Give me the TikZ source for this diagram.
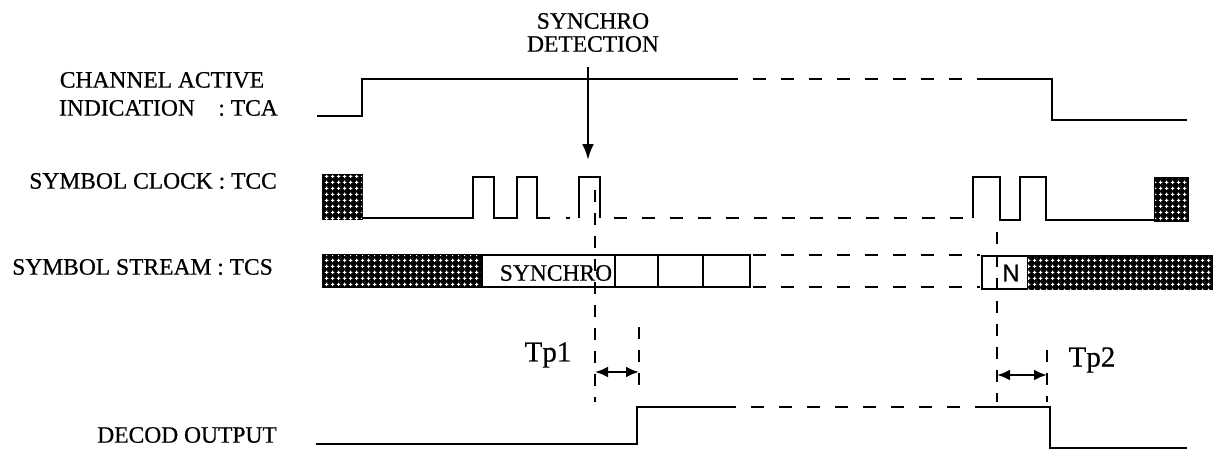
\documentclass[tikz,border=0pt]{standalone}
\usepackage{fontspec}
\setmainfont{Liberation Serif}[UprightFeatures={FakeBold=0.6}]
\newfontfamily\nfont{Liberation Sans}[UprightFeatures={FakeBold=0.6}]
\usetikzlibrary{arrows.meta,patterns}
\pgfdeclarepatternformonly{pluses}{\pgfpointorigin}{\pgfpoint{6pt}{6pt}}{\pgfpoint{6pt}{6pt}}{
	\pgfsetlinewidth{1.2pt}
	\pgfpathmoveto{\pgfpoint{1pt}{3pt}}\pgfpathlineto{\pgfpoint{5pt}{3pt}}
	\pgfpathmoveto{\pgfpoint{3pt}{1pt}}\pgfpathlineto{\pgfpoint{3pt}{5pt}}
	\pgfusepath{stroke}
}
\tikzset{
	sig/.style={line width=2.8pt},
	dsig/.style={line width=2.8pt, dash pattern=on 13pt off 15pt},
	vdsh/.style={line width=2.8pt, dash pattern=on 12pt off 11pt},
	hatch/.style={line width=2.8pt, fill=black, postaction={pattern=pluses, pattern color=white}},
	lbl/.style={font=\fontsize{23.5}{21}\selectfont, inner sep=0pt},
	tplbl/.style={font=\fontsize{29}{30}\selectfont, inner sep=0pt},
	gap/.style={line width=2.4pt, {Latex[length=13pt,width=11pt]}-{Latex[length=13pt,width=11pt]}},
}

\begin{document}
\begin{tikzpicture}[x=1pt,y=-1pt]
		%%%%% START %%%%%
		\useasboundingbox (0,0) rectangle (1223,455);
		
		% signal names
		\node[lbl] (tcatop) at (162,80) {CHANNEL ACTIVE};
		\node[lbl,anchor=east] (tca) at (278,108) {INDICATION\hspace{1em}: TCA};
		\node[lbl,anchor=east] (tcc) at (277,181) {SYMBOL CLOCK : TCC};
		\node[lbl,anchor=east] (tcs) at (273,267) {SYMBOL STREAM : TCS};
		\node[lbl,anchor=east] (decod) at (277,435) {DECOD OUTPUT};
		
		% TCA
		\draw[sig] (317,116) -- (362,116) -- (362,79) -- (725,79);
		\draw[dsig] (725,79) -- (982,79);
		\draw[sig] (982,79) -- (1052,79) -- (1052,120) -- (1187,120);
		
		% synchro detection
		\node[lbl] (sync) at (593,21) {SYNCHRO};
		\node[lbl] (detect) at (593,44) {DETECTION};
		\coordinate (synctop) at (588,67);
		\coordinate (syncpt) at (588,160);
		\draw[line width=2.6pt,-{Latex[length=16pt,width=12pt]}] (synctop) -- (syncpt);
		
		% TCC
		\draw[hatch] (323,175) rectangle (362,219);
		\draw[sig] (362,218) -- (473,218) -- (473,177) -- (494,177) -- (494,218) -- (517,218)
			-- (517,177) -- (537,177) -- (537,218) -- (550,218);
		\draw[sig] (566,218) -- (570,218);
		\draw[sig] (579,218) -- (579,177) -- (600,177) -- (600,218);
		\draw[dsig] (614,218) -- (965,218);
		\draw[sig] (973,218) -- (973,177) -- (1000,177) -- (1000,220) -- (1020,220) -- (1020,177)
			-- (1046,177) -- (1046,220) -- (1155,220);
		\draw[hatch] (1155,178) rectangle (1188,221);
		
		% TCS
		\draw[hatch] (323,255) rectangle (482,287);
		\draw[sig] (482,255) rectangle (750,287);
		\foreach \x in {615,658,703}
			\draw[sig] (\x,255) -- (\x,287);
		\node[lbl] (synword) at (556,273) {SYNCHRO};
		\draw[dsig] (753,255) -- (980,255);
		\draw[dsig] (753,287) -- (980,287);
		\draw[sig] (982,256) rectangle (1028,289);
		\node[inner sep=0pt,font=\nfont\fontsize{24}{24}\selectfont] (nword) at (1011,273) {N};
		\draw[hatch] (1028,256) rectangle (1212,289);
		
		% time marks
		\draw[vdsh] (595,190) -- (595,402);
		\draw[vdsh] (639,327) -- (639,392);
		\draw[vdsh] (997,232) -- (997,402);
		\draw[vdsh] (1047,350) -- (1047,402);
		
		\coordinate (tp1a) at (595,372);
		\coordinate (tp1b) at (639,372);
		\coordinate (tp2a) at (997,375);
		\coordinate (tp2b) at (1047,375);
		\draw[gap] (tp1a) -- (tp1b);
		\draw[gap] (tp2a) -- (tp2b);
		\node[tplbl] (tp1) at (548,355) {Tp1};
		\node[tplbl] (tp2) at (1092,360) {Tp2};
		
		% DECOD
		\draw[sig] (316,444) -- (637,444) -- (637,407) -- (723,407);
		\draw[dsig] (723,407) -- (980,407);
		\draw[sig] (980,407) -- (1050,407) -- (1050,448) -- (1187,448);
		
		%%%%% END %%%%%
	\end{tikzpicture}
\end{document}
